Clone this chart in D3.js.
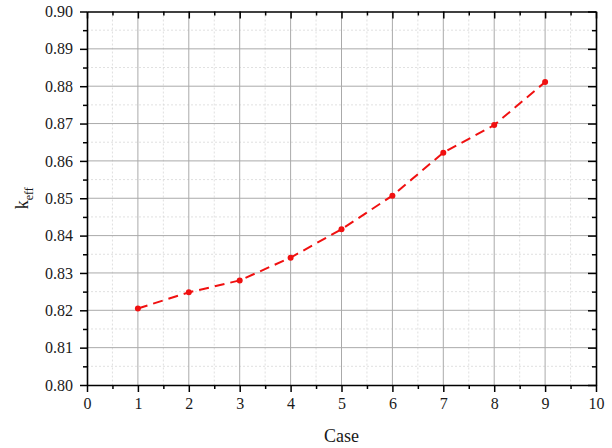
<!DOCTYPE html>
<html><head><meta charset="utf-8">
<script src="https://cdn.jsdelivr.net/npm/d3@7"></script>
<style>body{margin:0;background:#fff}svg{display:block}
text{font-family:'Liberation Serif','Times New Roman',serif !important}</style>
</head><body>
<script>
const cases = [1,2,3,4,5,6,7,8,9];
const keff = [0.8205,0.8248,0.8280,0.8341,0.8417,0.8507,0.8622,0.8696,0.8811];
const xTicks = [0,1,2,3,4,5,6,7,8,9,10];
const yTicks = [0.80,0.81,0.82,0.83,0.84,0.85,0.86,0.87,0.88,0.89,0.90];

const W=612,H=448, L=87, R=596, T=11.5, B=385;
const svg=d3.select("body").append("svg").attr("width",W).attr("height",H);
const x=d3.scaleLinear().domain([0,10]).range([L,R]);
const y=d3.scaleLinear().domain([0.80,0.90]).range([B,T]);
const xMinor=d3.range(0.5,10,1), yMinor=d3.range(0.805,0.9,0.01);
const g=svg.append("g");
g.selectAll(".mgx").data(xMinor).enter().append("line")
 .attr("x1",d=>x(d)).attr("x2",d=>x(d)).attr("y1",T).attr("y2",B)
 .attr("stroke","#d8d8d8").attr("stroke-width",0.8).attr("stroke-dasharray","2,2");
g.selectAll(".mgy").data(yMinor).enter().append("line")
 .attr("y1",d=>y(d)).attr("y2",d=>y(d)).attr("x1",L).attr("x2",R)
 .attr("stroke","#d8d8d8").attr("stroke-width",0.8).attr("stroke-dasharray","2,2");
g.selectAll(".gx").data(xTicks.slice(1,-1)).enter().append("line")
 .attr("x1",d=>x(d)).attr("x2",d=>x(d)).attr("y1",T).attr("y2",B)
 .attr("stroke","#aaa").attr("stroke-width",1);
g.selectAll(".gy").data(yTicks.slice(1,-1)).enter().append("line")
 .attr("y1",d=>y(d)).attr("y2",d=>y(d)).attr("x1",L).attr("x2",R)
 .attr("stroke","#aaa").attr("stroke-width",1);

const font="'Liberation Serif','Times New Roman',serif";
function styleAxis(sel){sel.attr("font-family",font);
 sel.selectAll("path").attr("stroke","#000").attr("stroke-width",1.6);
 sel.selectAll("line").attr("stroke","#000").attr("stroke-width",1.5);
 sel.selectAll("text").style("font-family",font).style("font-size","16px").attr("fill","#1a1a1a");}
function minor(s){s.select("path").remove();s.selectAll("line").attr("stroke","#000").attr("stroke-width",1.5);}
const bx=svg.append("g").attr("transform",`translate(0,${B})`)
 .call(d3.axisBottom(x).tickValues(xTicks).tickFormat(d3.format("d")).tickSize(7).tickPadding(6).tickSizeOuter(0));
styleAxis(bx);
svg.append("g").attr("transform",`translate(0,${B})`)
 .call(d3.axisBottom(x).tickValues(xMinor).tickFormat("").tickSize(4).tickSizeOuter(0)).call(minor);
const tx=svg.append("g").attr("transform",`translate(0,${T})`)
 .call(d3.axisBottom(x).tickValues(xTicks).tickFormat("").tickSize(7).tickSizeOuter(0));
styleAxis(tx);
svg.append("g").attr("transform",`translate(0,${T})`)
 .call(d3.axisBottom(x).tickValues(xMinor).tickFormat("").tickSize(4).tickSizeOuter(0)).call(minor);
const ly=svg.append("g").attr("transform",`translate(${L},0)`)
 .call(d3.axisLeft(y).tickValues(yTicks).tickFormat(d3.format(".2f")).tickSize(7).tickPadding(7).tickSizeOuter(0));
styleAxis(ly);
svg.append("g").attr("transform",`translate(${L},0)`)
 .call(d3.axisLeft(y).tickValues(yMinor).tickFormat("").tickSize(4).tickSizeOuter(0)).call(minor);
const ry=svg.append("g").attr("transform",`translate(${R},0)`)
 .call(d3.axisLeft(y).tickValues(yTicks).tickFormat("").tickSize(8).tickSizeOuter(0));
styleAxis(ry);
svg.append("g").attr("transform",`translate(${R},0)`)
 .call(d3.axisLeft(y).tickValues(yMinor).tickFormat("").tickSize(4).tickSizeOuter(0)).call(minor);

const line=d3.line().x((d,i)=>x(cases[i])).y(d=>y(d));
svg.append("path").datum(keff).attr("d",line).attr("fill","none")
 .attr("stroke","#f01010").attr("stroke-width",2).attr("stroke-dasharray","10,6");
svg.selectAll(".pt").data(keff).enter().append("circle")
 .attr("cx",(d,i)=>x(cases[i])).attr("cy",d=>y(d)).attr("r",3).attr("fill","#f01010");

svg.append("text").attr("x",(L+R)/2).attr("y",442).attr("text-anchor","middle")
 .style("font-family",font).style("font-size","18px").attr("fill","#1a1a1a").text("Case");
const yl=svg.append("text").attr("transform",`translate(28,${(T+B)/2}) rotate(-90)`)
 .attr("text-anchor","middle").style("font-family",font).style("font-size","18px").attr("fill","#1a1a1a");
yl.append("tspan").text("k");
yl.append("tspan").style("font-size","12px").attr("dy",5).text("eff");
</script>
</body></html>
